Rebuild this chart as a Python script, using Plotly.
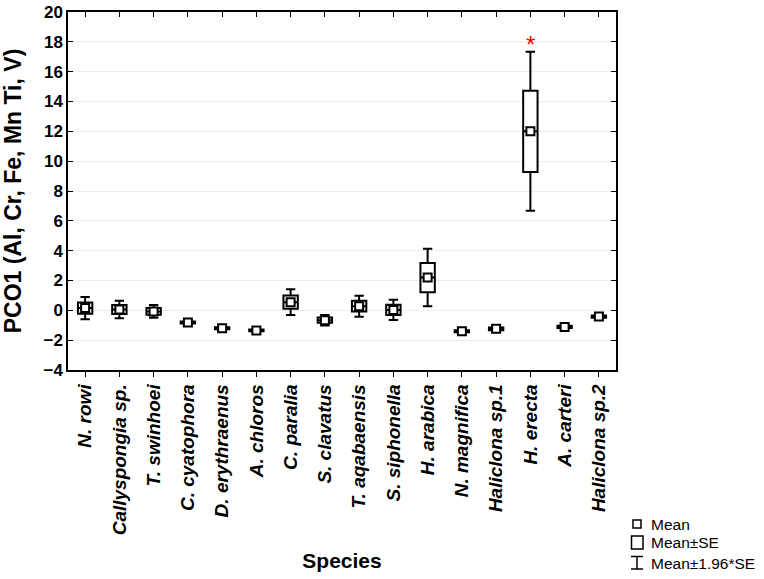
import plotly.graph_objects as go

species = ["N. rowi", "Callyspongia sp.", "T. swinhoei", "C. cyatophora", "D. erythraenus",
           "A. chloros", "C. paralia", "S. clavatus", "T. aqabaensis", "S. siphonella",
           "H. arabica", "N. magnifica", "Haliclona sp.1", "H. erecta", "A. carteri",
           "Haliclona sp.2"]
means = [0.15, 0.05, -0.07, -0.82, -1.20, -1.35, 0.55, -0.66, 0.28, 0.03,
         2.20, -1.40, -1.24, 12.00, -1.11, -0.42]
se = [0.38, 0.30, 0.22, 0.07, 0.06, 0.06, 0.44, 0.18, 0.36, 0.35,
      0.98, 0.07, 0.09, 2.72, 0.07, 0.08]
y_ticks = list(range(-4, 21, 2))
star_species = "H. erecta"
star_y = 18.1

q1 = [m - s for m, s in zip(means, se)]
q3 = [m + s for m, s in zip(means, se)]
lo = [m - 1.96 * s for m, s in zip(means, se)]
hi = [m + 1.96 * s for m, s in zip(means, se)]

FONT = "Liberation Sans, Arial, sans-serif"

fig = go.Figure()
fig.add_trace(go.Box(
    x=species, q1=q1, median=means, q3=q3, lowerfence=lo, upperfence=hi,
    boxpoints=False, fillcolor="white", line=dict(color="black", width=2),
    width=0.42, whiskerwidth=0.65, showlegend=False, hoverinfo="skip"))
fig.add_trace(go.Scatter(
    x=species, y=means, mode="markers", showlegend=False,
    marker=dict(symbol="square", size=8, color="white",
                line=dict(color="black", width=2))))
# invisible trace on top axis
fig.add_trace(go.Scatter(x=species, y=means, xaxis="x2", mode="markers",
                         marker=dict(opacity=0), showlegend=False, hoverinfo="skip"))

fig.add_annotation(x=star_species, y=star_y, text="*", showarrow=False,
                   font=dict(family=FONT, size=24, color="red"), yanchor="middle", yshift=-4)

PL, PR, PT, PB = 68, 616, 12, 370   # plot area in page pixels
W, H = 764, 579
L, T = PL, PT
R, B = W - PR, H - PB
pw, ph = PR - PL, PB - PT

def px(x):
    return (x - PL) / pw

def py(y):
    return (PB - y) / ph

shapes = []
# legend icons
shapes.append(dict(type="rect", xref="paper", yref="paper", x0=px(633), x1=px(641),
                   y0=py(528), y1=py(520), line=dict(color="black", width=1.5), fillcolor="white"))
shapes.append(dict(type="rect", xref="paper", yref="paper", x0=px(631.5), x1=px(643),
                   y0=py(549), y1=py(536), line=dict(color="black", width=1.5), fillcolor="white"))
shapes.append(dict(type="line", xref="paper", yref="paper", x0=px(637), x1=px(637),
                   y0=py(556.5), y1=py(569), line=dict(color="black", width=1.5)))
shapes.append(dict(type="line", xref="paper", yref="paper", x0=px(631), x1=px(643),
                   y0=py(556.5), y1=py(556.5), line=dict(color="black", width=1.5)))
shapes.append(dict(type="line", xref="paper", yref="paper", x0=px(631), x1=px(643),
                   y0=py(569), y1=py(569), line=dict(color="black", width=1.5)))
fig.update_layout(shapes=shapes)

for label, yy in [("Mean", 524), ("Mean±SE", 542.5), ("Mean±1.96*SE", 563)]:
    fig.add_annotation(xref="paper", yref="paper", x=px(649), y=py(yy), text=label,
                       showarrow=False, xanchor="left", yanchor="middle",
                       font=dict(family=FONT, size=15.5, color="black"))

fig.update_layout(
    width=W, height=H, margin=dict(l=L, r=R, t=T, b=B, autoexpand=False),
    paper_bgcolor="white", plot_bgcolor="white",
    font=dict(family=FONT, color="black"),
    xaxis=dict(type="category", categoryorder="array", categoryarray=species,
               range=[-0.5, len(species) - 0.5], tickangle=-90, automargin=False,
               ticks="outside", ticklen=5, tickcolor="black", tickwidth=1,
               showline=True, linecolor="black", linewidth=1.5, mirror=True,
               showgrid=False, zeroline=False, ticklabeloverflow="allow",
               tickfont=dict(family=FONT, size=19, color="black", weight="bold", style="italic"),
               title=dict(text="<b>Species</b>", font=dict(family=FONT, size=21), standoff=19)),
    xaxis2=dict(type="category", categoryorder="array", categoryarray=species,
                overlaying="x", side="top", range=[-0.5, len(species) - 0.5],
                automargin=False,
                ticks="inside", ticklen=5, tickcolor="black", showticklabels=False,
                showgrid=False, zeroline=False, showline=False),
    yaxis=dict(range=[-4, 20], tickvals=y_ticks, ticks="inside", ticklen=5,
               automargin=False, ticklabeloverflow="allow",
               tickcolor="black", showline=True, linecolor="black", linewidth=1.5,
               mirror="ticks", showgrid=True, gridcolor="#ececec", gridwidth=1,
               zeroline=False,
               tickfont=dict(family=FONT, size=17, color="black", weight="bold"),
               title=dict(text="<b>PCO1 (Al, Cr, Fe, Mn Ti, V)</b>",
                          font=dict(family=FONT, size=23), standoff=25)),
)

fig.write_html("out.html", config={"displayModeBar": False},
               post_script="document.body.style.margin='0px';")
